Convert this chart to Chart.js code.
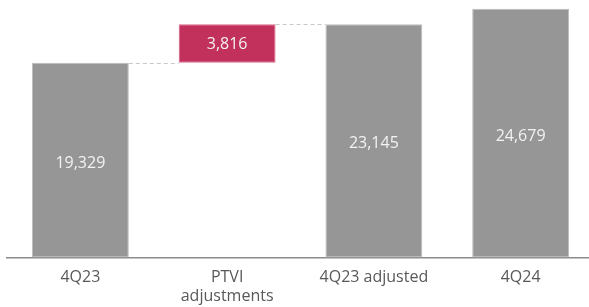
<!DOCTYPE html>
<html>
<head>
<meta charset="utf-8">
<script src="https://cdn.jsdelivr.net/npm/chart.js@4"></script>
<style>
  html, body { margin:0; padding:0; background:#fff; overflow:hidden; }
  #wrap { width:600px; height:316px; }
</style>
</head>
<body>
<div id="wrap"><canvas id="chart" width="600" height="316"></canvas></div>
<script>
// Waterfall: 4Q23 -> PTVI adjustments -> 4Q23 adjusted, then 4Q24
const CATEGORIES = ['4Q23', ['PTVI', 'adjustments'], '4Q23 adjusted', '4Q24'];
const BAR_STARTS = [0, 19329, 0, 0];
const BAR_ENDS   = [19329, 23145, 23145, 24679];
const BAR_LABELS = ['19,329', '3,816', '23,145', '24,679'];
const BAR_COLORS = ['#969696', '#c2305c', '#969696', '#969696'];

const GREY = '#969696';

// dashed connectors between bar tops + value labels inside bars
const waterfallBits = {
  id: 'waterfallBits',
  afterDatasetsDraw(chart){
    const ctx = chart.ctx, meta = chart.getDatasetMeta(0), y = chart.scales.y;
    ctx.save();
    ctx.strokeStyle = '#c8c8c8'; ctx.lineWidth = 1.2; ctx.setLineDash([4, 3]);
    [[0, 1, BAR_ENDS[0]], [1, 2, BAR_ENDS[1]]].forEach(([a, b, v]) => {
      const ba = meta.data[a], bb = meta.data[b];
      const py = Math.round(y.getPixelForValue(v)) + 0.5;
      ctx.beginPath();
      ctx.moveTo(ba.x + ba.width / 2, py);
      ctx.lineTo(bb.x - bb.width / 2, py);
      ctx.stroke();
    });
    ctx.setLineDash([]);
    ctx.font = '16px "Open Sans"';
    ctx.fillStyle = '#f2f2f2';
    ctx.textAlign = 'center'; ctx.textBaseline = 'middle';
    meta.data.forEach((bar, i) => {
      const mid = (y.getPixelForValue(BAR_STARTS[i]) + y.getPixelForValue(BAR_ENDS[i])) / 2;
      ctx.fillText(BAR_LABELS[i], bar.x, mid + (i === 1 ? 1 : 3));
    });
    ctx.restore();
  }
};

new Chart(document.getElementById('chart'), {
  type: 'bar',
  data: {
    labels: CATEGORIES,
    datasets: [{
      data: BAR_STARTS.map((s, i) => [s, BAR_ENDS[i]]),
      backgroundColor: BAR_COLORS,
      borderColor: BAR_COLORS.map(c => c === GREY ? '#bdbdbd' : '#d9628a'),
      borderWidth: 1,
      borderSkipped: false,
      categoryPercentage: 1,
      barPercentage: 0.66
    }]
  },
  options: {
    responsive: false,
    animation: false,
    layout: { padding: { left: 7, right: 6, top: 0, bottom: 0 } },
    plugins: { legend: { display: false }, tooltip: { enabled: false } },
    scales: {
      x: {
        grid: { display: false, drawTicks: false },
        border: { display: true, color: '#8c8c8c', width: 1.5 },
        ticks: { color: '#595959', font: { family: 'Open Sans', size: 16 }, padding: 10, maxRotation: 0, autoSkip: false }
      },
      y: { display: false, min: 0, max: 25540 }
    }
  },
  plugins: [waterfallBits]
});
</script>
</body>
</html>
